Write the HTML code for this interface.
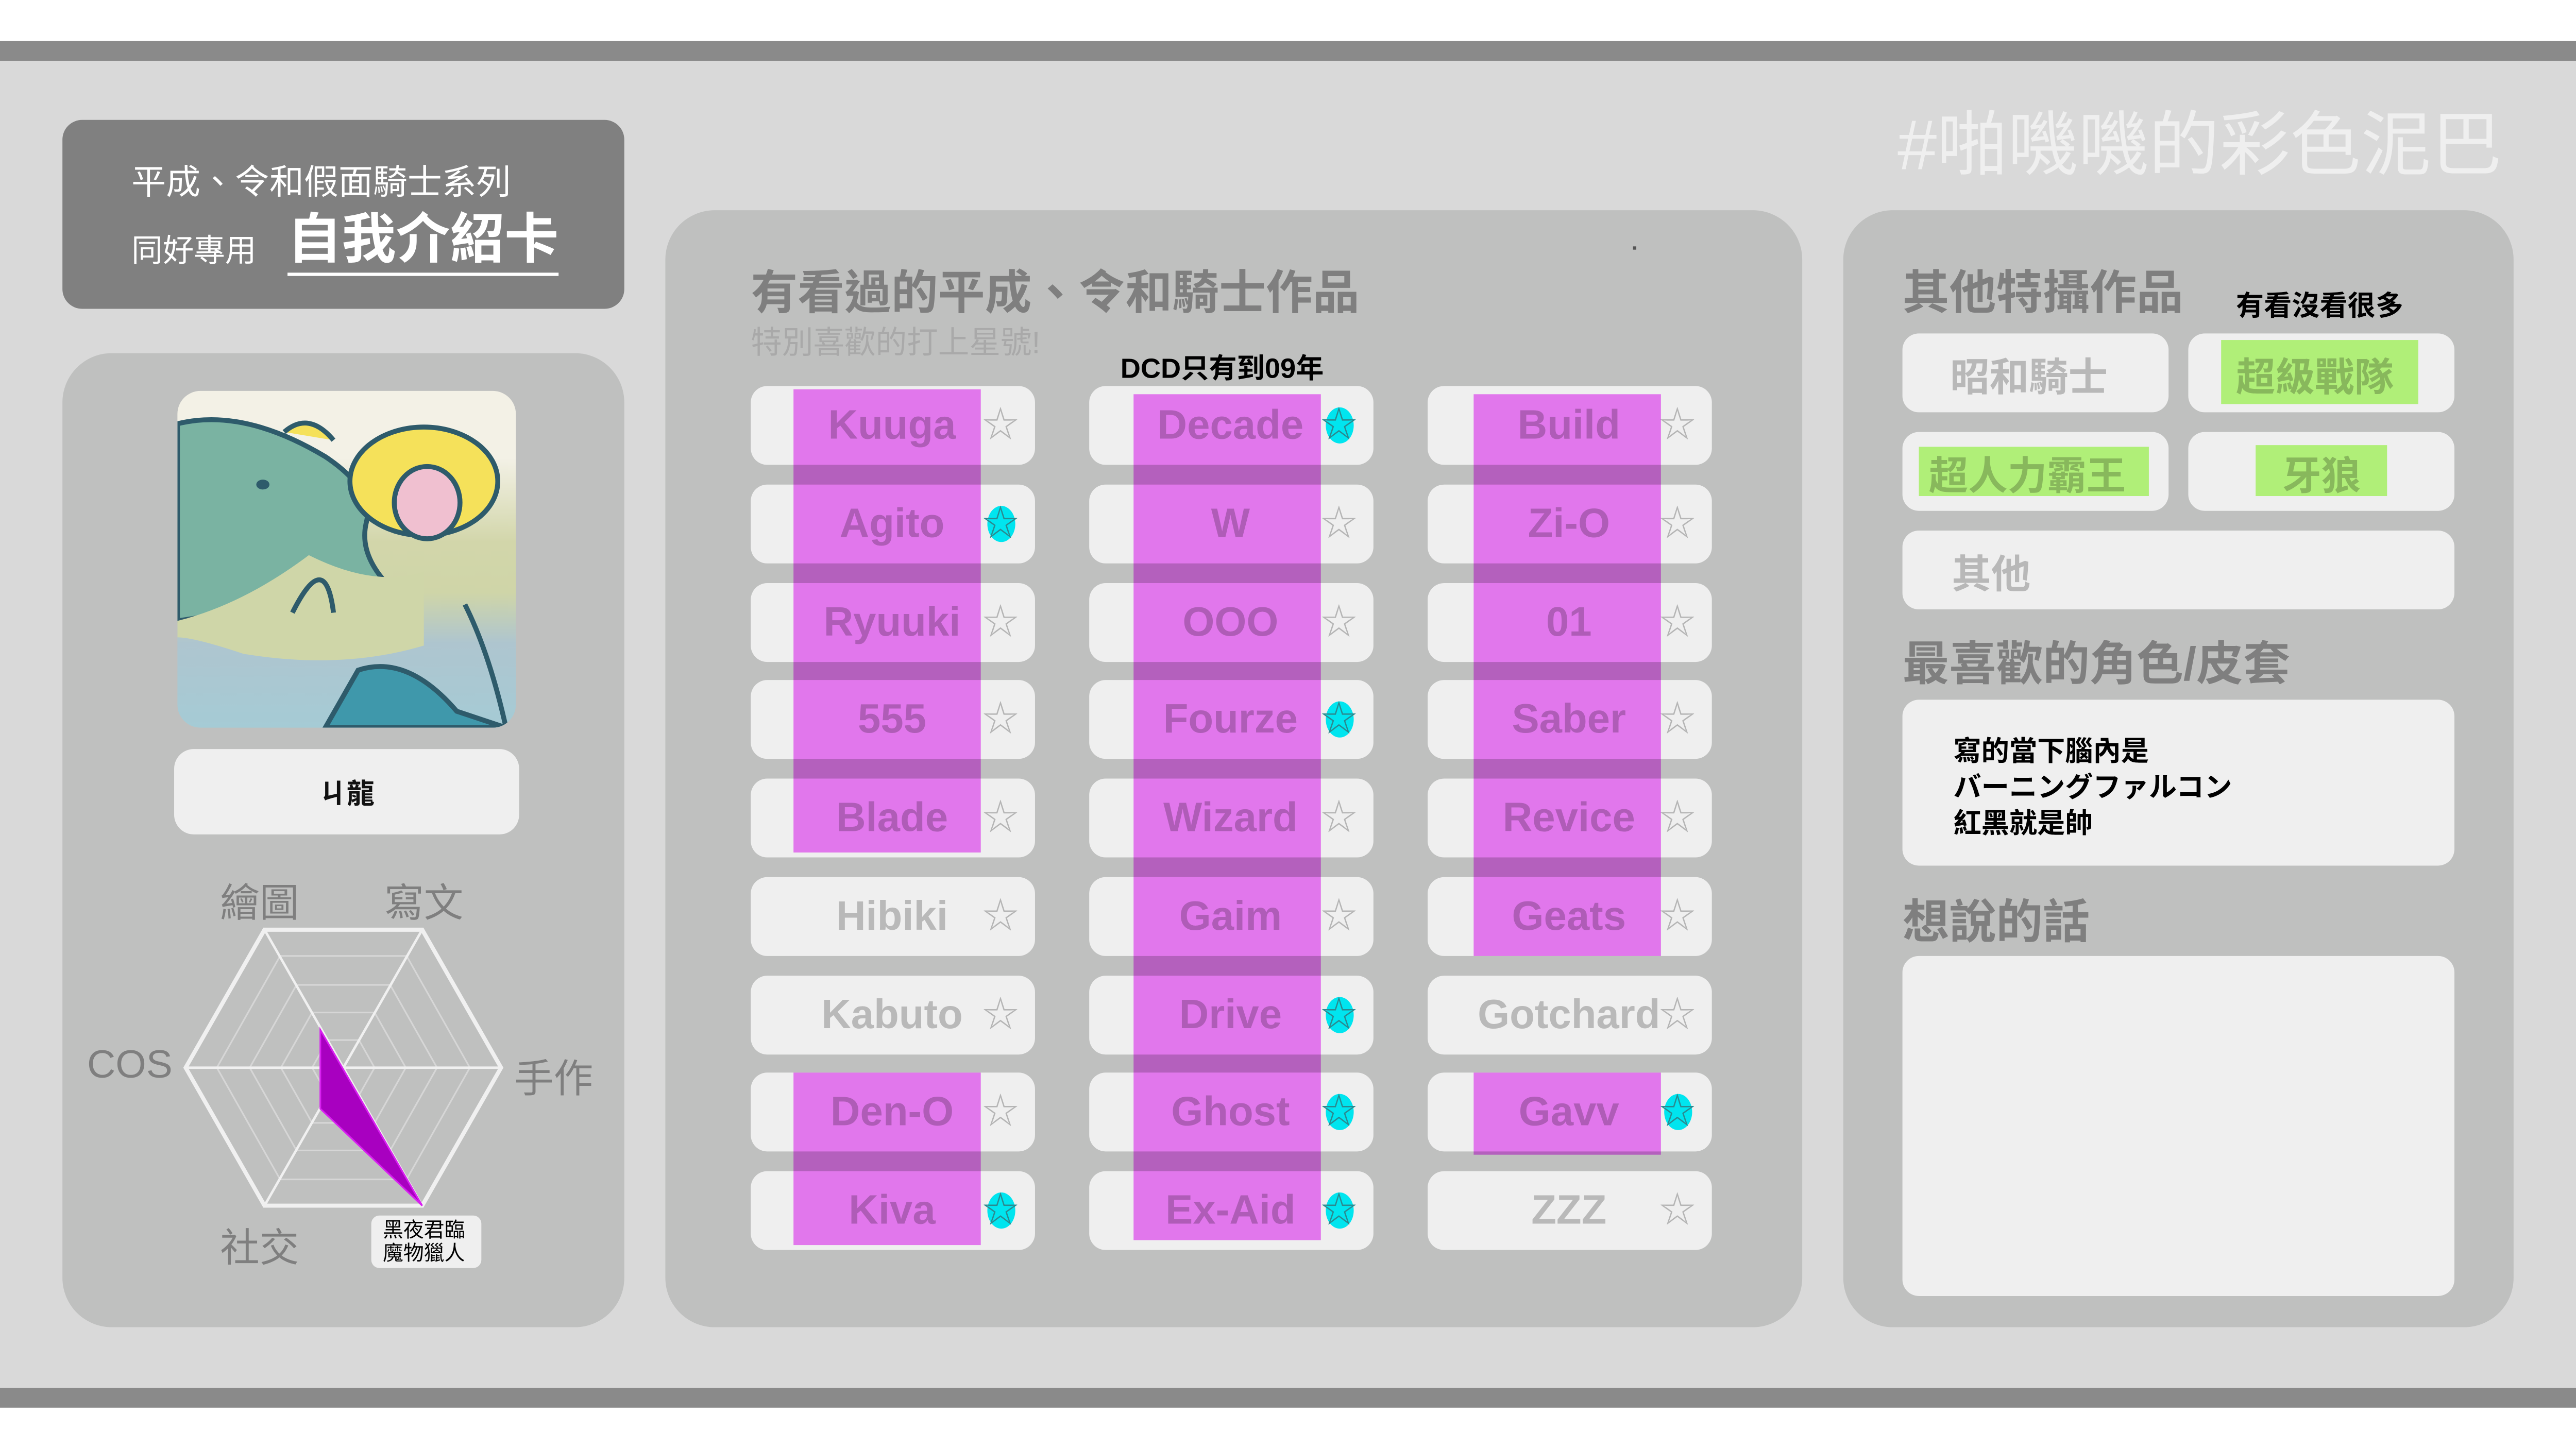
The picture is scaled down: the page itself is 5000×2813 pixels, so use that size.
<!DOCTYPE html>
<html><head><meta charset="utf-8"><style>
*{margin:0;padding:0;box-sizing:border-box}
html,body{width:5000px;height:2813px;overflow:hidden;background:#fff}
#w{position:absolute;left:0;top:0;width:1568px;height:882px;transform:scale(3.18878);transform-origin:0 0;font-family:"Liberation Sans","Noto Sans CJK TC",sans-serif}
.a{position:absolute}
.btn{position:absolute;background:#efefef;border-radius:10px;width:173px;height:48px}
.lbl{position:absolute;width:180px;text-align:center;font-weight:bold;font-size:25px;color:#b9b9b9;line-height:48px;white-space:nowrap}
.star{position:absolute;font-size:22px;color:#b5b5b5;line-height:48px;width:24px;text-align:center}
.star.on{color:#2a8a90}
.cy{position:absolute;width:17px;height:22px;border-radius:50%;background:#00e5ef}
.band{position:absolute;background:rgb(241,127,252);mix-blend-mode:multiply}
.grn{position:absolute;background:rgb(188,255,128);mix-blend-mode:multiply}
.h{position:absolute;font-weight:bold;font-size:28.5px;color:#7f7f7f;white-space:nowrap}
.rb{position:absolute;background:#efefef;border-radius:10px}
.rt{position:absolute;font-weight:bold;font-size:24px;color:#b8b8b8;white-space:nowrap}
</style></head><body><div id="w">
<div class="a" style="left:0;top:25px;width:1568px;height:12px;background:#8a8a8a"></div>
<div class="a" style="left:0;top:37px;width:1568px;height:808px;background:#d9d9d9"></div>
<div class="a" style="left:0;top:845px;width:1568px;height:12px;background:#8a8a8a"></div>
<div class="a" style="left:1155px;top:54px;font-size:43px;color:#efefef;white-space:nowrap">#啪嘰嘰的彩色泥巴</div>

<div class="a" style="left:38px;top:73px;width:342px;height:115px;background:#808080;border-radius:12px"></div>
<div class="a" style="left:80px;top:95px;font-size:21px;color:#fff;white-space:nowrap">平成、令和假面騎士系列</div>
<div class="a" style="left:80px;top:138px;font-size:19px;color:#fff;white-space:nowrap">同好專用</div>
<div class="a" style="left:175px;top:125px;font-size:33px;font-weight:bold;color:#fff;white-space:nowrap;border-bottom:2px solid #fff;line-height:41px">自我介紹卡</div>

<div class="a" style="left:38px;top:215px;width:342px;height:593px;background:#bfc0bf;border-radius:30px"></div>
<div class="a" style="left:108px;top:238px;width:206px;height:205px;border-radius:14px;overflow:hidden;background:linear-gradient(#f3f1e6 0%,#f3f1e6 20%,#d2d6aa 45%,#cfd5a8 60%,#aec5cf 75%,#a5cbd5 100%)">
<svg width="206" height="205" viewBox="0 0 206 205">
<path d="M0 20 Q40 10 90 40 Q120 60 115 80 Q110 100 130 120 L0 140Z" fill="#7ab3a2" stroke="#2e5b6b" stroke-width="3"/>
<path d="M0 140 Q40 130 80 100 Q120 120 150 110 L150 155 Q100 170 40 160 Q10 150 0 150Z" fill="#cfd6a8"/>
<ellipse cx="150" cy="55" rx="45" ry="33" fill="#f5e15a" stroke="#2e5b6b" stroke-width="3"/>
<ellipse cx="152" cy="68" rx="20" ry="22" fill="#f0c0d0" stroke="#2e5b6b" stroke-width="3"/>
<path d="M65 25 Q80 12 95 30" fill="#f5e15a" stroke="#2e5b6b" stroke-width="3"/>
<ellipse cx="52" cy="57" rx="4" ry="3" fill="#2e5b6b"/>
<path d="M110 170 Q140 160 170 195 L200 205 L90 205 Z" fill="#3f98ab" stroke="#2e5b6b" stroke-width="3"/>
<path d="M175 130 Q190 160 200 205" fill="none" stroke="#2e5b6b" stroke-width="3"/>
<path d="M70 135 Q90 95 95 135" fill="none" stroke="#2e5b6b" stroke-width="3"/>
</svg></div>
<div class="a" style="left:106px;top:456px;width:210px;height:52px;background:#efefef;border-radius:12px;text-align:center;line-height:56px;font-weight:bold;font-size:17px;color:#111">ㄐ龍</div>

<svg class="a" style="left:0;top:0" width="400" height="800" viewBox="0 0 400 800">
<g fill="none" stroke="#d6d6d6" stroke-width="1">
<polygon points="190,650 199.5,633.2 218.5,633.2 228,650 218.5,666.8 199.5,666.8"/>
<polygon points="171,650 190,616.4 228,616.4 247,650 228,683.6 190,683.6"/>
<polygon points="152,650 180.5,599.6 237.5,599.6 266,650 237.5,700.4 180.5,700.4"/>
<polygon points="132,650 170.5,582 247.5,582 286,650 247.5,718 170.5,718"/>
</g>
<g stroke="#f0f0f0" stroke-width="1.5">
<line x1="113" y1="650" x2="305" y2="650"/><line x1="161" y1="566" x2="257" y2="734"/><line x1="257" y1="566" x2="161" y2="734"/>
</g>
<polygon points="113,650 161,566 257,566 305,650 257,734 161,734" fill="none" stroke="#f0f0f0" stroke-width="2.5"/>
<polygon points="195,627 257,734 195,675" fill="#a800c0" stroke="#d820f0" stroke-width="1"/>
</svg>
<div class="a" style="left:134px;top:530px;font-size:24px;color:#7f7f7f">繪圖</div>
<div class="a" style="left:234px;top:530px;font-size:24px;color:#7f7f7f">寫文</div>
<div class="a" style="left:53px;top:635px;font-size:24px;color:#7f7f7f">COS</div>
<div class="a" style="left:313px;top:637px;font-size:24px;color:#7f7f7f">手作</div>
<div class="a" style="left:134px;top:740px;font-size:24px;color:#7f7f7f">社交</div>
<div class="a" style="left:226px;top:740px;width:67px;height:32px;background:#efefef;border-radius:5px;font-size:12.5px;line-height:13.5px;padding:3px 0 0 7px;color:#000">黑夜君臨<br>魔物獵人</div>

<div class="a" style="left:405px;top:128px;width:692px;height:680px;background:#bfc0bf;border-radius:30px"></div>
<div class="h" style="left:457px;top:156px">有看過的平成、令和騎士作品</div>
<div class="a" style="left:457px;top:194px;font-size:19px;color:#a9a9a9;white-space:nowrap">特別喜歡的打上星號!</div>
<div class="a" style="left:682px;top:210px;font-size:17px;font-weight:bold;color:#000;white-space:nowrap">DCD只有到09年</div>
<div class="a" style="left:994px;top:150px;width:2px;height:2px;background:#555"></div>

<div id="grid"></div>
<script>
var cols=[[457,"Kuuga Agito Ryuuki 555 Blade Hibiki Kabuto Den-O Kiva","010000001"],[663,"Decade W OOO Fourze Wizard Gaim Drive Ghost Ex-Aid","100100111"],[869,"Build Zi-O 01 Saber Revice Geats Gotchard Gavv ZZZ","000000010"]];
var h="";
cols.forEach(function(c){var x=c[0],names=c[1].split(" ");
names.forEach(function(n,i){var y=235+i*59.75;var on=c[2][i]=="1";
h+='<div class="btn" style="left:'+x+'px;top:'+y+'px"></div>';
h+='<div class="lbl" style="left:'+(x-4)+'px;top:'+y+'px">'+n+'</div>';
if(on)h+='<div class="cy" style="left:'+(x+144)+'px;top:'+(y+13)+'px"></div>';
h+='<div class="star'+(on?' on':'')+'" style="left:'+(x+140)+'px;top:'+y+'px">☆</div>';});});
var bands=[[483,237,519],[483,653,758],[690,240,755],[897,240,582],[897,653,703]];
bands.forEach(function(b){h+='<div class="band" style="left:'+b[0]+'px;top:'+b[1]+'px;width:114px;height:'+(b[2]-b[1])+'px"></div>';});
document.getElementById("grid").outerHTML=h;
</script>

<div class="a" style="left:1122px;top:128px;width:408px;height:680px;background:#bfc0bf;border-radius:30px"></div>
<div class="h" style="left:1158px;top:156px">其他特攝作品</div>
<div class="a" style="left:1361px;top:172px;font-size:17px;font-weight:bold;color:#000;white-space:nowrap">有看沒看很多</div>
<div class="rb" style="left:1158px;top:203px;width:162px;height:48px"></div>
<div class="rb" style="left:1332px;top:203px;width:162px;height:48px"></div>
<div class="rb" style="left:1158px;top:263px;width:162px;height:48px"></div>
<div class="rb" style="left:1332px;top:263px;width:162px;height:48px"></div>
<div class="rb" style="left:1158px;top:323px;width:336px;height:48px"></div>
<div class="rt" style="left:1187px;top:210px">昭和騎士</div>
<div class="rt" style="left:1361px;top:210px">超級戰隊</div>
<div class="rt" style="left:1174px;top:270px">超人力霸王</div>
<div class="rt" style="left:1389px;top:270px">牙狼</div>
<div class="rt" style="left:1188px;top:330px">其他</div>
<div class="grn" style="left:1352px;top:207px;width:120px;height:39px"></div>
<div class="grn" style="left:1168px;top:272px;width:140px;height:30px"></div>
<div class="grn" style="left:1373px;top:271px;width:80px;height:31px"></div>
<div class="h" style="left:1158px;top:382px">最喜歡的角色/皮套</div>
<div class="rb" style="left:1158px;top:426px;width:336px;height:101px"></div>
<div class="a" style="left:1189px;top:447px;font-size:17px;font-weight:bold;color:#000;line-height:22px;white-space:nowrap">寫的當下腦內是<br>バーニングファルコン<br>紅黑就是帥</div>
<div class="h" style="left:1158px;top:539px">想說的話</div>
<div class="rb" style="left:1158px;top:582px;width:336px;height:207px"></div>
</div></body></html>
